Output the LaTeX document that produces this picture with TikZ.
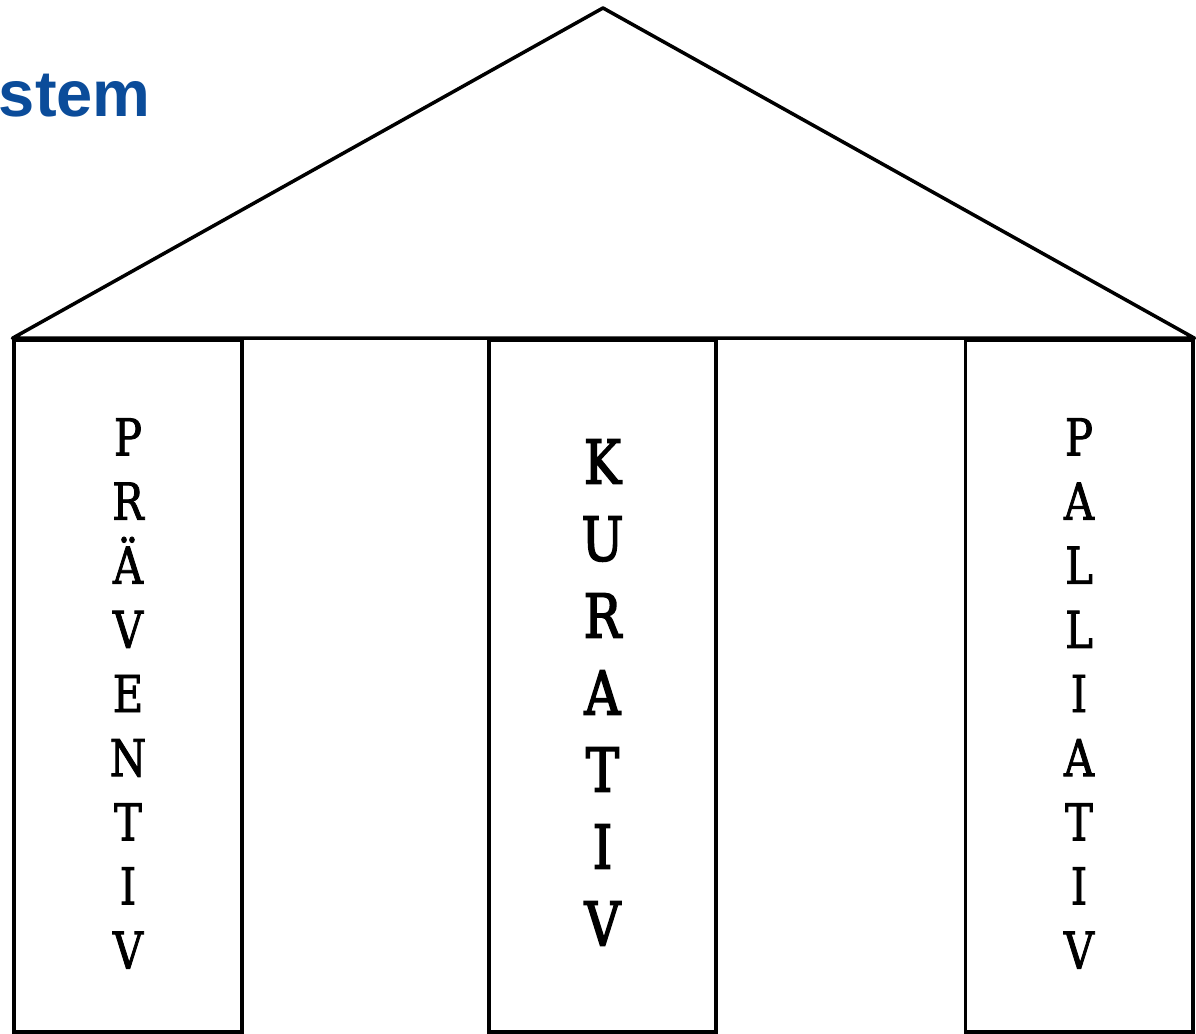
\documentclass[tikz,border=0pt]{standalone}
\usepackage{fontspec}
\setmainfont{Liberation Sans}
\newfontfamily\pillarfont[FakeStretch=0.82,FakeBold=1.6]{DejaVu Serif}
\newfontfamily\kurafont[FakeStretch=0.82,FakeBold=2.6]{DejaVu Serif}
\usetikzlibrary{positioning,calc}
\definecolor{titleblue}{HTML}{0B4C9A}

\begin{document}
\begin{tikzpicture}[
      pillar/.style={rectangle, draw=black, line width=2pt, minimum width=4.55cm,
                     minimum height=13.84cm},
      roof/.style={draw=black, line width=2pt, line join=round},
      pillartext/.style={font=\pillarfont\fontsize{29}{36.5}\selectfont, align=center, inner sep=0pt},
      title/.style={font=\bfseries\fontsize{37}{40}\selectfont, text=titleblue, inner sep=0pt}
    ]
      \useasboundingbox (0,0) rectangle (23.92,20.68);
      \node[title, anchor=base east] (sys) at (3.02,18.34) {stem};
      \node[pillar] (prae) at (2.56,6.96)  {};
      \node[pillar] (kura) at (12.05,6.96) {};
      \node[pillar] (pall) at (21.58,6.96) {};
      \node[pillartext] (praetext) at ([yshift=-0.15cm]prae.center) {P\\R\\Ä\\V\\E\\N\\T\\I\\V};
      \node[pillartext, font=\kurafont\fontsize{34.5}{43.8}\selectfont] (kuratext) at ([yshift=-0.13cm]kura.center) {K\\U\\R\\A\\T\\I\\V};
      \node[pillartext] (palltext) at ([yshift=-0.15cm]pall.center) {P\\A\\L\\L\\I\\A\\T\\I\\V};
      \coordinate (apex) at (12.06,20.52);
      \draw[roof] (prae.north west) -- (apex) -- (pall.north east) -- cycle;
    \end{tikzpicture}
\end{document}
